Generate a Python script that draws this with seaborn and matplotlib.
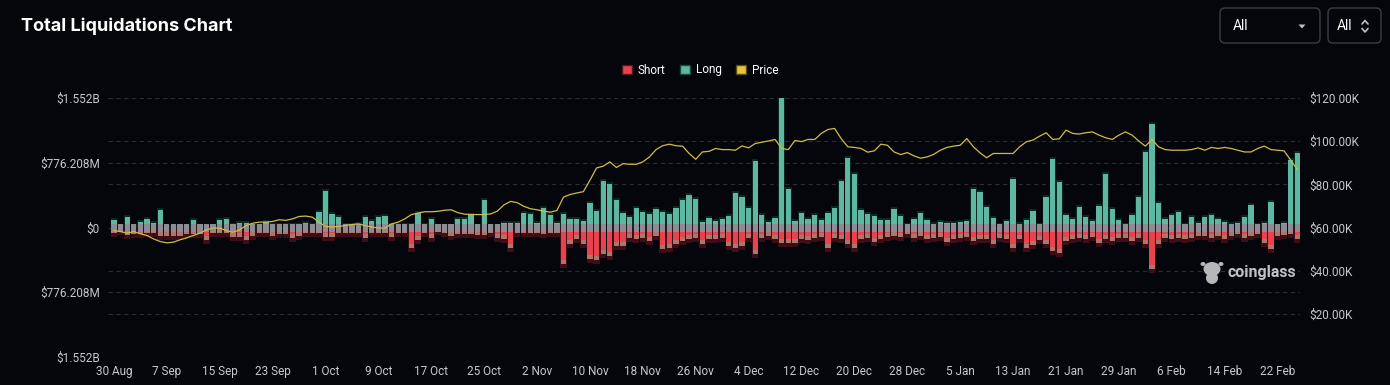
import numpy as np
import pandas as pd
import matplotlib
matplotlib.use("Agg")
import matplotlib.pyplot as plt
import seaborn as sns
from matplotlib.patches import Patch, FancyBboxPatch, Ellipse, Polygon
from matplotlib.lines import Line2D

# daily data, 30 Aug 2024 -> 25 Feb 2025
dates = pd.date_range("2024-08-30", "2025-02-25", freq="D")

# long liquidations ($M)
long_liq = [84, 6, 120, 12, 60, 96, 48, 205, 5, 4,
            6, 5, 84, 12, 4, 6, 84, 96, 24, 48,
            48, 24, 6, 60, 24, 22, 26, 24, 22, 48,
            24, 180, 433, 156, 120, 22, 26, 36, 120, 72,
            120, 132, 24, 22, 26, 24, 168, 24, 96, 12,
            6, 12, 96, 96, 144, 12, 325, 12, 14, 48,
            48, 48, 168, 156, 48, 229, 144, 48, 156, 96,
            96, 72, 289, 192, 553, 517, 325, 168, 120, 229,
            180, 156, 217, 180, 156, 229, 325, 385, 337, 60,
            108, 72, 96, 132, 409, 361, 229, 794, 144, 60,
            108, 1552, 457, 72, 168, 96, 144, 84, 168, 229,
            553, 830, 638, 205, 156, 132, 84, 84, 217, 132,
            24, 96, 168, 84, 36, 60, 48, 48, 60, 72,
            457, 421, 241, 108, 24, 72, 577, 36, 84, 192,
            24, 361, 818, 541, 144, 96, 241, 120, 72, 253,
            638, 217, 84, 24, 144, 361, 902, 1239, 289, 96,
            144, 180, 24, 120, 48, 120, 144, 96, 60, 36,
            48, 120, 265, 24, 48, 301, 12, 48, 806, 890]

# short liquidations ($M)
short_liq = [60, 36, 84, 72, 72, 60, 60, 96, 96, 96,
             96, 72, 72, 72, 144, 60, 60, 60, 108, 108,
             144, 96, 60, 60, 96, 72, 72, 120, 96, 60,
             60, 60, 108, 108, 60, 60, 60, 60, 120, 60,
             60, 60, 108, 60, 60, 241, 144, 60, 120, 36,
             60, 96, 72, 72, 72, 84, 84, 60, 120, 132,
             241, 60, 60, 60, 60, 72, 60, 60, 433, 192,
             132, 192, 373, 385, 313, 337, 217, 217, 120, 132,
             120, 156, 96, 253, 241, 192, 156, 132, 120, 192,
             132, 132, 120, 217, 241, 217, 120, 313, 120, 96,
             132, 180, 180, 180, 132, 144, 120, 108, 241, 120,
             132, 192, 241, 132, 120, 168, 132, 108, 96, 108,
             72, 120, 96, 132, 120, 108, 168, 132, 120, 108,
             156, 132, 132, 192, 120, 132, 241, 132, 241, 205,
             144, 192, 277, 301, 156, 132, 120, 132, 108, 180,
             132, 156, 120, 120, 156, 120, 192, 493, 192, 120,
             132, 120, 132, 120, 96, 96, 120, 96, 132, 96,
             72, 120, 96, 72, 180, 253, 96, 84, 72, 132]

# BTC price ($K)
price = [58.6, 58.1, 57.4, 58.1, 57.1, 56.3, 54.7, 53.5, 52.9, 53.2,
         54.3, 55.2, 56.3, 57.4, 58.9, 59.8, 59.7, 58.6, 57.8, 58.9,
         60.9, 62.0, 62.5, 62.5, 62.8, 63.6, 63.3, 64.0, 65.1, 65.3,
         64.8, 62.5, 60.5, 60.2, 60.5, 60.9, 61.4, 61.7, 60.9, 60.2,
         59.8, 59.7, 61.7, 62.5, 64.0, 66.0, 66.7, 67.3, 67.3, 67.5,
         68.0, 68.2, 66.9, 66.2, 66.0, 66.0, 66.0, 66.3, 67.6, 70.5,
         72.1, 71.5, 69.8, 68.7, 68.2, 67.6, 67.1, 67.9, 74.1, 75.3,
         76.0, 76.6, 81.9, 87.6, 88.4, 90.4, 87.8, 89.6, 89.3, 89.3,
         90.4, 92.7, 96.1, 97.9, 98.6, 97.9, 97.7, 94.3, 91.6, 95.0,
         95.3, 96.6, 96.1, 96.1, 95.8, 97.8, 96.9, 98.9, 99.5, 100.1,
         100.8, 96.6, 96.1, 100.3, 99.8, 100.8, 100.8, 103.6, 105.4, 105.9,
         101.2, 97.4, 97.1, 96.6, 94.9, 95.5, 98.6, 98.1, 95.0, 93.8,
         94.7, 93.2, 92.1, 92.7, 93.9, 95.8, 97.1, 97.7, 98.1, 101.2,
         97.4, 94.6, 92.3, 94.3, 94.3, 94.3, 94.3, 97.4, 99.7, 100.5,
         102.3, 103.9, 100.8, 101.1, 105.1, 103.6, 103.3, 103.9, 104.3, 102.8,
         101.6, 100.8, 102.8, 104.3, 102.8, 100.1, 97.7, 100.8, 97.4, 96.1,
         95.8, 95.8, 95.8, 96.1, 96.9, 95.8, 97.1, 96.6, 97.1, 96.6,
         95.8, 95.0, 95.0, 96.6, 97.7, 96.1, 95.8, 95.5, 91.2, 86.8]

left_ticks = [-1552.416, -776.208, 0, 776.208, 1552.416]
left_labels = ["$1.552B", "$776.208M", "$0", "$776.208M", "$1.552B"]
right_ticks = [20000, 40000, 60000, 80000, 100000, 120000]
right_labels = ["$20.00K", "$40.00K", "$60.00K", "$80.00K", "$100.00K", "$120.00K"]

BG = "#05060b"
TEAL = "#5db7a2"
RED = "#e6434f"
GREY = "#8f8b95"
TAN = "#a9786a"
YELLOW = "#cdbd48"
GRID = "#2a2d36"
TXT = "#c8c8cc"

sns.set_theme(style="dark")
plt.rcParams['font.family'] = ['Roboto', 'DejaVu Sans']
plt.rcParams['patch.force_edgecolor'] = False

df = pd.DataFrame({"day": np.arange(len(dates)), "long": long_liq,
                   "short": [-s for s in short_liq], "price": [p * 1000 for p in price]})

fig = plt.figure(figsize=(13.9, 3.85), dpi=100, facecolor=BG)
ax = fig.add_axes([108 / 1390, 1 - 357 / 385, (1300 - 108) / 1390, (357 - 98) / 385])
ax.set_facecolor(BG)

nb = dict(saturation=1, errorbar=None, ax=ax, linewidth=0, edgecolor="none")
# glow behind the bars
sns.barplot(x=df["day"], y=df["long"] + 30, color="#0b291f", width=0.98, zorder=1, **nb)
sns.barplot(x=df["day"], y=df["short"] - 55, color="#3f0d15", width=0.98, zorder=1, **nb)
# long / short bars
sns.barplot(data=df, x="day", y="long", color=TEAL, width=0.8, zorder=2, **nb)
sns.barplot(data=df, x="day", y="short", color=RED, width=0.8, zorder=2, **nb)
# tan tip at the end of the short bars and grey band round zero
ax.bar(df["day"], 48, bottom=df["short"], width=0.8, color=TAN, lw=0, zorder=3)
ax.bar(df["day"], 100, bottom=-55, width=0.8, color=GREY, lw=0, zorder=4)

ax.set_ylim(-1552.416, 1552.416)

# dashed grid for both axes
for v in left_ticks:
    ax.axhline(v, color=GRID, lw=0.8, ls=(0, (4, 3)), zorder=0.5)
for p in right_ticks:
    if p != 60000:
        ax.axhline((p - 60000) / 60000 * 1552.416, color=GRID, lw=0.8, ls=(0, (4, 3)), zorder=0.5)

ax.set_yticks(left_ticks)
ax.set_yticklabels(left_labels)
ax.set_xticks(df["day"][::8])
ax.set_xticklabels([f"{d.day} {d.strftime('%b')}" for d in dates[::8]])
ax.tick_params(axis="both", length=0, colors=TXT, labelsize=8.5)
ax.tick_params(axis="y", pad=6)
ax.tick_params(axis="x", pad=6)
ax.set_xlabel("")
ax.set_ylabel("")
for s in ax.spines.values():
    s.set_visible(False)

ax2 = ax.twinx()
sns.lineplot(data=df, x="day", y="price", color=YELLOW, lw=0.9, ax=ax2, zorder=5)
ax2.set_ylim(0, 120000)
ax2.set_yticks(right_ticks)
ax2.set_yticklabels(right_labels)
ax2.tick_params(axis="y", length=0, colors=TXT, labelsize=8.5, pad=7)
ax2.set_ylabel("")
for s in ax2.spines.values():
    s.set_visible(False)
ax.set_xlim(-0.9, 179.4)

# title and legend
fig.text(21 / 1390, 1 - 26 / 385, "Total Liquidations Chart", color="white",
         fontsize=13, fontweight="bold", va="center", ha="left",
         family=["Inter", "DejaVu Sans"])
handles = [Patch(facecolor=RED, edgecolor="#5a151b"),
           Patch(facecolor=TEAL, edgecolor="#1c4a3e"),
           Patch(facecolor="#e3c540", edgecolor="#5a4d12")]
fig.legend(handles, ["Short", "Long", "Price"], loc="center",
           bbox_to_anchor=(700 / 1390, 1 - 70 / 385), ncol=3, frameon=False,
           handlelength=0.85, handleheight=0.85, handletextpad=0.5,
           columnspacing=1.2, labelcolor="white", fontsize=8.5)

# header controls and watermark in pixel coords
ov = fig.add_axes([0, 0, 1, 1])
ov.set_xlim(0, 1390)
ov.set_ylim(385, 0)
ov.axis("off")
ov.patch.set_visible(False)
for x0, w in [(1220, 100), (1328, 53)]:
    ov.add_patch(FancyBboxPatch((x0, 8), w, 35, boxstyle="round,pad=0,rounding_size=5",
                                fc="none", ec="#3a3d46", lw=1))
ov.text(1233, 26, "All", color="white", fontsize=10, va="center", ha="left")
ov.text(1337, 26, "All", color="white", fontsize=10, va="center", ha="left")
ov.add_patch(Polygon([[1298.5, 24.5], [1305.5, 24.5], [1302, 28.5]], closed=True, fc="#c0c0c4", ec="none"))
ov.add_line(Line2D([1362, 1365, 1368], [24, 20.5, 24], color="#c0c0c4", lw=1.2))
ov.add_line(Line2D([1362, 1365, 1368], [28.5, 32, 28.5], color="#c0c0c4", lw=1.2))

ov.add_patch(Ellipse((1212, 269), 17, 14, fc="#b7b7ba", ec="none"))
ov.add_patch(Ellipse((1212, 278), 12, 12, fc="#b7b7ba", ec="none"))
ov.add_patch(Ellipse((1203, 264), 5, 4, fc="#b7b7ba", ec="none"))
ov.add_patch(Ellipse((1221, 264), 5, 4, fc="#b7b7ba", ec="none"))
ov.text(1228, 272, "coinglass", color="#c2c2c6", fontsize=11.5, fontweight="bold",
        va="center", ha="left")

fig.savefig("out.png", dpi=100, facecolor=BG)
